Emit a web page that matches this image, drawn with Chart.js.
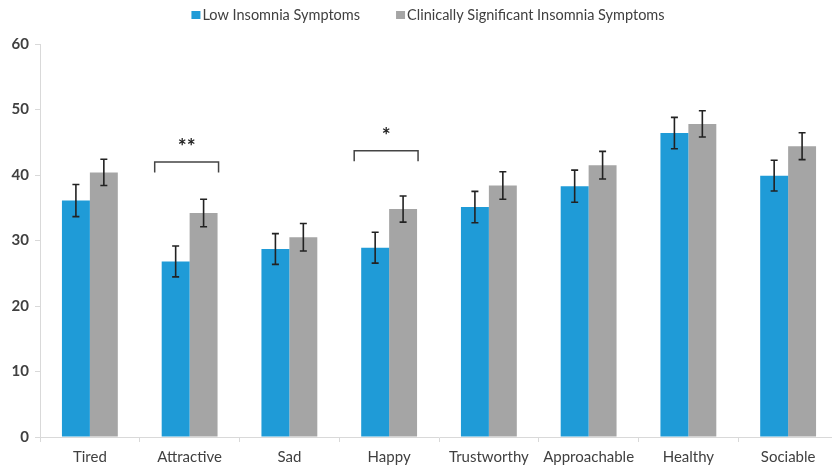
<!DOCTYPE html>
<html>
<head>
<meta charset="utf-8">
<script src="https://cdn.jsdelivr.net/npm/chart.js@4.4.1/dist/chart.umd.min.js"></script>
<style>
  html, body { margin: 0; padding: 0; background: #fff; overflow: hidden; }
  #wrap { width: 840px; height: 468px; }
</style>
</head>
<body>
<div id="wrap"><canvas id="chart"></canvas></div>
<script>
const categories = ['Tired', 'Attractive', 'Sad', 'Happy', 'Trustworthy', 'Approachable', 'Healthy', 'Sociable'];
const lowValues = [36.1, 26.8, 28.7, 28.9, 35.1, 38.3, 46.4, 39.9];
const lowErrors = [2.45, 2.35, 2.35, 2.35, 2.4, 2.45, 2.4, 2.35];
const highValues = [40.4, 34.2, 30.5, 34.8, 38.4, 41.5, 47.8, 44.4];
const highErrors = [2.0, 2.1, 2.1, 2.0, 2.1, 2.1, 2.0, 2.05];
const yTicks = [0, 10, 20, 30, 40, 50, 60];

// significance brackets
const bracketCats = [1, 3];
const bracketTop = [42.0, 43.7];
const bracketLeg = [40.4, 42.1];
const bracketStars = ['**', '*'];
const starLevel = [44.9, 46.5];

const FONT = 'Lato, "Noto Sans", sans-serif';

const errorBars = {
  id: 'errorBars',
  afterDatasetsDraw(chart) {
    const ctx = chart.ctx;
    const y = chart.scales.y;
    const errs = [lowErrors, highErrors];
    ctx.save();
    ctx.strokeStyle = '#222';
    ctx.lineWidth = 1.6;
    chart.data.datasets.forEach((ds, di) => {
      chart.getDatasetMeta(di).data.forEach((bar, i) => {
        const top = y.getPixelForValue(ds.data[i] + errs[di][i]);
        const bot = y.getPixelForValue(ds.data[i] - errs[di][i]);
        ctx.beginPath();
        ctx.moveTo(bar.x, top); ctx.lineTo(bar.x, bot);
        ctx.moveTo(bar.x - 3.5, top); ctx.lineTo(bar.x + 3.5, top);
        ctx.moveTo(bar.x - 3.5, bot); ctx.lineTo(bar.x + 3.5, bot);
        ctx.stroke();
      });
    });

    // brackets + stars
    const lowMeta = chart.getDatasetMeta(0).data;
    const highMeta = chart.getDatasetMeta(1).data;
    ctx.strokeStyle = '#444';
    ctx.lineWidth = 1.5;
    ctx.fillStyle = '#222';
    ctx.font = 'bold 21px ' + FONT;
    ctx.textAlign = 'center';
    ctx.textBaseline = 'middle';
    bracketCats.forEach((c, k) => {
      const b0 = lowMeta[c], b1 = highMeta[c];
      const x0 = b0.x - b0.width / 2 - 7;
      const x1 = b1.x + b1.width / 2 + 1;
      const yt = y.getPixelForValue(bracketTop[k]);
      const yl = y.getPixelForValue(bracketLeg[k]);
      ctx.beginPath();
      ctx.moveTo(x0, yl); ctx.lineTo(x0, yt); ctx.lineTo(x1, yt); ctx.lineTo(x1, yl);
      ctx.stroke();
      ctx.fillText(bracketStars[k], (x0 + x1) / 2, y.getPixelForValue(starLevel[k]) + 4);
    });
    ctx.restore();
  }
};

// legend drawn by hand so the spacing can match the original
const topLegend = {
  id: 'topLegend',
  afterDraw(chart) {
    const ctx = chart.ctx;
    ctx.save();
    ctx.font = '14.5px ' + FONT;
    ctx.textBaseline = 'middle';
    ctx.textAlign = 'left';
    const items = chart.data.datasets;
    const widths = items.map(d => ctx.measureText(d.label).width);
    const total = widths.reduce((a, b) => a + b, 0) + items.length * 11 + (items.length - 1) * 36;
    let x = chart.width / 2 + 8 - total / 2;
    const yMid = 15;
    items.forEach((d, i) => {
      ctx.fillStyle = d.backgroundColor;
      ctx.fillRect(x, yMid - 4, 9, 8);
      ctx.fillStyle = '#404040';
      ctx.fillText(d.label, x + 11, yMid);
      x += 11 + widths[i] + 36;
    });
    ctx.restore();
  }
};

new Chart(document.getElementById('chart'), {
  type: 'bar',
  data: {
    labels: categories,
    datasets: [
      { label: 'Low Insomnia Symptoms', data: lowValues, backgroundColor: '#1f9bd7' },
      { label: 'Clinically Significant Insomnia Symptoms', data: highValues, backgroundColor: '#a5a5a5' }
    ]
  },
  options: {
    responsive: true,
    maintainAspectRatio: false,
    animation: false,
    layout: { padding: { top: 44, right: 2, left: 0, bottom: 0 } },
    datasets: { bar: { categoryPercentage: 0.56, barPercentage: 1.0 } },
    plugins: {
      legend: { display: false },
      tooltip: { enabled: false }
    },
    scales: {
      x: {
        grid: { display: true, drawOnChartArea: false, drawTicks: true, tickLength: 5, color: '#d9d9d9' },
        border: { color: '#d9d9d9' },
        ticks: { color: '#404040', padding: 6, font: { family: FONT, size: 15 } },
        afterFit(scale) { scale.height = 31; }
      },
      y: {
        min: 0, max: 60,
        afterBuildTicks(scale) { scale.ticks = yTicks.map(v => ({ value: v })); },
        grid: { display: true, drawOnChartArea: false, drawTicks: true, tickLength: 5, color: '#d9d9d9' },
        border: { color: '#d9d9d9' },
        ticks: { color: '#404040', padding: 6, font: { family: FONT, size: 15, weight: 'bold' } },
        afterFit(scale) { scale.width = 40; }
      }
    }
  },
  plugins: [errorBars, topLegend]
});
</script>
</body>
</html>
